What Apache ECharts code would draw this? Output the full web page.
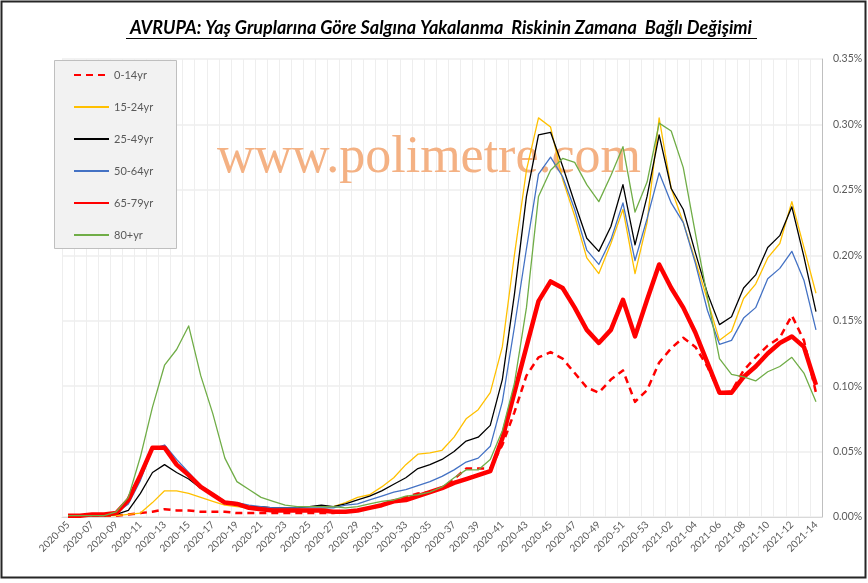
<!DOCTYPE html>
<html>
<head>
<meta charset="utf-8">
<title>AVRUPA</title>
<script src="https://cdn.jsdelivr.net/npm/echarts@6/dist/echarts.min.js"></script>
<style>
    html,body{margin:0;padding:0;background:#fff;}
    #js-chart{width:868px;height:583px;}
</style>
</head>
<body>
<div id="js-chart"></div>
<script>
// hafta etiketleri
var weeks = [];
for (var w = 5; w <= 53; w++) { weeks.push('2020-' + (w < 10 ? '0' + w : w)); }
for (var w2 = 1; w2 <= 14; w2++) { weeks.push('2021-' + (w2 < 10 ? '0' + w2 : w2)); }

var seriesNames = ['0-14yr', '15-24yr', '25-49yr', '50-64yr', '65-79yr', '80+yr'];

// değerler (%)
var age0_14 = [0.001,0.001,0.001,0.001,0.001,0.002,0.003,0.004,0.006,0.005,
    0.005,0.004,0.004,0.004,0.003,0.003,0.003,0.003,0.003,0.003,
    0.003,0.003,0.003,0.004,0.005,0.007,0.009,0.012,0.015,0.018,
    0.019,0.022,0.029,0.037,0.037,0.037,0.055,0.080,0.108,0.122,
    0.126,0.121,0.110,0.099,0.095,0.105,0.112,0.088,0.097,0.118,
    0.129,0.137,0.130,0.115,0.095,0.096,0.112,0.122,0.131,0.137,
    0.154,0.135,0.095];
var age15_24 = [0.001,0.001,0.001,0.001,0.001,0.002,0.003,0.011,0.020,0.020,
    0.018,0.015,0.012,0.009,0.008,0.007,0.006,0.006,0.006,0.006,
    0.006,0.006,0.008,0.011,0.015,0.017,0.023,0.030,0.040,0.048,
    0.049,0.051,0.061,0.075,0.082,0.095,0.130,0.200,0.265,0.305,
    0.298,0.258,0.230,0.198,0.186,0.209,0.235,0.186,0.225,0.305,
    0.251,0.225,0.196,0.166,0.135,0.142,0.167,0.178,0.198,0.209,
    0.241,0.206,0.171];
var age25_49 = [0.001,0.001,0.001,0.001,0.002,0.005,0.018,0.034,0.040,0.034,
    0.029,0.022,0.017,0.012,0.010,0.008,0.008,0.007,0.007,0.007,
    0.008,0.009,0.008,0.010,0.013,0.016,0.020,0.025,0.030,0.037,
    0.040,0.044,0.050,0.058,0.061,0.070,0.105,0.170,0.245,0.292,
    0.294,0.268,0.240,0.213,0.203,0.222,0.254,0.208,0.245,0.292,
    0.251,0.235,0.202,0.171,0.147,0.153,0.175,0.185,0.206,0.215,
    0.237,0.199,0.157];
var age50_64 = [0.001,0.001,0.001,0.001,0.003,0.010,0.028,0.052,0.055,0.044,
    0.034,0.024,0.018,0.012,0.011,0.009,0.008,0.007,0.007,0.007,
    0.007,0.007,0.007,0.009,0.010,0.013,0.016,0.019,0.021,0.024,
    0.027,0.031,0.036,0.042,0.045,0.054,0.088,0.145,0.205,0.262,
    0.275,0.260,0.235,0.204,0.193,0.212,0.240,0.196,0.228,0.263,
    0.240,0.225,0.194,0.158,0.132,0.135,0.152,0.160,0.182,0.190,
    0.203,0.181,0.143];
var age65_79 = [0.001,0.001,0.002,0.002,0.003,0.013,0.032,0.053,0.053,0.040,
    0.032,0.023,0.017,0.011,0.010,0.007,0.006,0.005,0.005,0.005,
    0.005,0.005,0.004,0.004,0.005,0.007,0.009,0.012,0.013,0.016,
    0.019,0.022,0.026,0.029,0.032,0.035,0.060,0.095,0.130,0.165,
    0.180,0.175,0.160,0.143,0.133,0.143,0.166,0.138,0.166,0.193,
    0.175,0.160,0.141,0.118,0.095,0.095,0.107,0.115,0.125,0.133,
    0.138,0.130,0.101];
var age80 = [0.001,0.001,0.001,0.001,0.004,0.015,0.046,0.084,0.116,0.128,
    0.146,0.108,0.079,0.045,0.027,0.021,0.015,0.012,0.009,0.008,
    0.008,0.008,0.008,0.007,0.008,0.010,0.012,0.013,0.016,0.017,
    0.019,0.023,0.030,0.036,0.036,0.044,0.066,0.102,0.160,0.245,
    0.265,0.274,0.271,0.254,0.241,0.261,0.283,0.233,0.256,0.301,
    0.295,0.267,0.217,0.168,0.121,0.109,0.107,0.104,0.111,0.115,
    0.122,0.110,0.088];

var yTicks = [0, 0.05, 0.10, 0.15, 0.20, 0.25, 0.30, 0.35];

var chart = echarts.init(document.getElementById('js-chart'));

function mkLine(name, data, color, width, type) {
    return {
        name: name,
        type: 'line',
        data: data,
        symbol: 'none',
        smooth: false,
        animation: false,
        lineStyle: { color: color, width: width, type: type || 'solid', cap: 'butt', join: 'round' },
        itemStyle: { color: color }
    };
}

var option = {
    animation: false,
    textStyle: { fontFamily: 'Lato, "Open Sans", sans-serif' },
    grid: { left: 62, right: 46, top: 59, bottom: 66, containLabel: false },
    legend: {
        orient: 'vertical',
        left: 73,
        top: 68,
        padding: 0,
        itemWidth: 35,
        itemHeight: 14,
        itemGap: 18,
        data: seriesNames,
        itemStyle: { opacity: 0 },   // daireleri gizle, sadece çizgi
        textStyle: { color: '#595959', fontSize: 11, lineHeight: 14 }
    },
    xAxis: {
        type: 'category',
        data: weeks,
        boundaryGap: true,
        axisLine: { lineStyle: { color: '#d9d9d9', width: 1 } },
        axisTick: { show: false },
        splitLine: { show: true, interval: 0, lineStyle: { color: '#eeeeee', width: 1 } },
        axisLabel: { interval: 1, rotate: 45, color: '#595959', fontSize: 10, margin: 6 }
    },
    yAxis: {
        type: 'value',
        position: 'right',
        min: yTicks[0],
        max: yTicks[yTicks.length - 1],
        interval: 0.05,
        axisLine: { show: true, lineStyle: { color: '#bfbfbf' } },
        axisTick: { show: false },
        splitLine: { lineStyle: { color: '#eeeeee', width: 1.5 } },
        axisLabel: {
            color: '#595959', fontSize: 10.5, margin: 11,
            formatter: function (v) { return v.toFixed(2) + '%'; }
        }
    },
    graphic: [
        // dış çerçeve
        { type: 'rect', z: 0, silent: true,
          shape: { x: 1.5, y: 1.5, width: 864, height: 576 },
          style: { fill: null, stroke: '#262626', lineWidth: 2 } },
        // legend kutusu
        { type: 'rect', z: 3, silent: true,
          shape: { x: 54.5, y: 60.5, width: 122, height: 188 },
          style: { fill: '#f2f2f2', stroke: '#bfbfbf', lineWidth: 1 } },
        // filigran
        { type: 'text', z: 1, silent: true, x: 429, y: 158,
          style: { text: 'www.polimetre.com', font: '52px "Liberation Serif", serif',
                   fill: '#F4B183', textAlign: 'center', textVerticalAlign: 'middle' } },
        // başlık
        { type: 'text', z: 5, silent: true, x: 441, y: 28,
          style: { text: 'AVRUPA: Yaş Gruplarına Göre Salgına Yakalanma  Riskinin Zamana  Bağlı Değişimi',
                   font: 'italic bold 18px Lato, sans-serif', fill: '#000',
                   textAlign: 'center', textVerticalAlign: 'middle' } },
        { type: 'line', z: 5, silent: true,
          shape: { x1: 126, y1: 38.5, x2: 757, y2: 38.5 },
          style: { stroke: '#000', lineWidth: 1.2 } }
    ],
    series: [
        mkLine(seriesNames[0], age0_14, '#ff0000', 2.5, [7, 5]),
        mkLine(seriesNames[1], age15_24, '#ffc000', 1.3),
        mkLine(seriesNames[2], age25_49, '#000000', 1.3),
        mkLine(seriesNames[3], age50_64, '#4472c4', 1.3),
        mkLine(seriesNames[4], age65_79, '#ff0000', 4.5),
        mkLine(seriesNames[5], age80, '#70ad47', 1.3)
    ]
};
chart.setOption(option);
</script>
</body>
</html>
